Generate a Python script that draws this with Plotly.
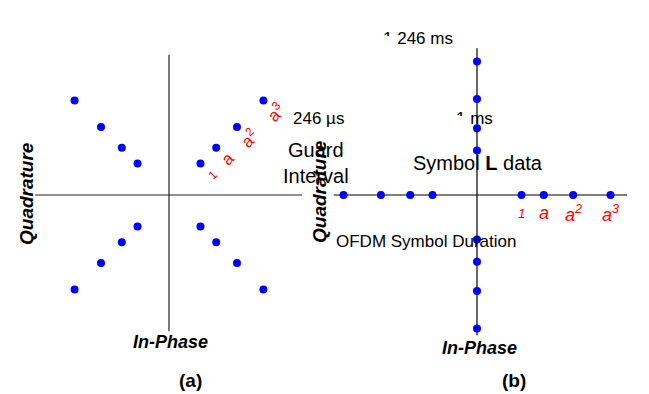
import math
import plotly.graph_objects as go

# ---------------- data ----------------
amplitudes = [1.0, 1.5, 2.16, 3.0]          # ring amplitudes: 1, a, a^2, a^3
amp_labels = ["1", "a", "a<sup>2</sup>", "a<sup>3</sup>"]
star_angles_deg = [45, 135, 225, 315]        # panel (a): star constellation
cross_angles_deg = [0, 90, 180, 270]         # panel (b): cross constellation

# page body has an 8px margin -> figure drawn at (8, 8)
OX, OY = 8, 8
W, H = 641, 386
UNIT = 44.5  # px per amplitude unit

def pts(angles):
    xs, ys = [], []
    for ang in angles:
        for r in amplitudes:
            xs.append(r * math.cos(math.radians(ang)))
            ys.append(r * math.sin(math.radians(ang)))
    return xs, ys

ax_x, ax_y = pts(star_angles_deg)
bx_x, bx_y = pts(cross_angles_deg)

fig = go.Figure()
marker = dict(color="#0000ff", size=8, line=dict(width=0))
fig.add_trace(go.Scatter(x=ax_x, y=ax_y, mode="markers", marker=marker,
                         xaxis="x", yaxis="y", showlegend=False, hoverinfo="skip"))
fig.add_trace(go.Scatter(x=bx_x, y=bx_y, mode="markers", marker=marker,
                         xaxis="x2", yaxis="y2", showlegend=False, hoverinfo="skip"))

# axis geometry (centres in screen px)
ca = (169 - OX, 195 - OY)
cb = (477 - OX, 195 - OY)
SPLIT = 324 - OX

def rng(px0, px1, c):
    return [(px0 - c) / UNIT, (px1 - c) / UNIT]

yr = [(ca[1] - H) / UNIT, (ca[1] - 0) / UNIT]
hid = dict(visible=False, showgrid=False, zeroline=False, fixedrange=True)
fig.update_layout(
    xaxis=dict(domain=[0, SPLIT / W], range=rng(0, SPLIT, ca[0]), **hid),
    yaxis=dict(domain=[0, 1], range=yr, **hid),
    xaxis2=dict(domain=[SPLIT / W, 1], range=rng(SPLIT, W, cb[0]), anchor="y2", **hid),
    yaxis2=dict(domain=[0, 1], range=yr, anchor="x2", **hid),
)

# axis lines
shapes = [
    dict(type="line", xref="x", yref="y", x0=-3.01, x1=2.99, y0=0, y1=0,
         line=dict(color="#222222", width=1.2)),
    dict(type="line", xref="x", yref="y", x0=0, x1=0, y0=3.15, y1=-3.06,
         line=dict(color="#222222", width=1.2)),
    dict(type="line", xref="x2", yref="y2", x0=-3.22, x1=3.37, y0=0, y1=0,
         line=dict(color="#000000", width=1.2)),
    dict(type="line", xref="x2", yref="y2", x0=0, x1=0, y0=3.30, y1=-3.15,
         line=dict(color="#000000", width=1.2)),
]
fig.update_layout(shapes=[dict(s, layer="below") for s in shapes])

FONT = "Liberation Sans, Arial, sans-serif"
ann = []
def px(x, y, text, size, color="#000", angle=0, **kw):
    d = dict(xref="paper", yref="paper", x=(x - OX) / W, y=1 - (y - OY) / H, text=text,
             showarrow=False, textangle=angle,
             font=dict(family=FONT, size=size, color=color),
             xanchor="center", yanchor="middle")
    d.update(kw)
    ann.append(d)

def cover(x0, y0, x1, y1):
    # white patch that hides part of an earlier text (as in the source figure)
    ann.append(dict(xref="paper", yref="paper", x=(x0 - OX) / W, y=1 - (y0 - OY) / H,
                    xanchor="left", yanchor="top", text="&nbsp;", showarrow=False,
                    width=x1 - x0, height=y1 - y0, bgcolor="white", borderpad=0,
                    borderwidth=0, font=dict(size=4, color="white")))

# red amplitude labels, panel (a): along the 45 deg diagonal, rotated
for r, lab in zip(amplitudes, amp_labels):
    c = math.cos(math.radians(45))
    ann.append(dict(xref="x", yref="y", x=r * c, y=r * c, text=lab,
                    showarrow=False, textangle=-45, xshift=12, yshift=-11,
                    font=dict(family=FONT, size=17 if lab != "1" else 12, color="#ff0000")))
# red amplitude labels, panel (b): under the positive in-phase axis
for r, lab in zip(amplitudes, amp_labels):
    ann.append(dict(xref="x2", yref="y2", x=r, y=0, text="<i>" + lab + "</i>",
                    showarrow=False, yshift=-18,
                    font=dict(family=FONT, size=18 if lab != "1" else 13, color="#ff0000")))

# overlapping timing texts
px(418, 38, "1.246 ms", 17)
cover(384, 36, 397, 47)
px(318, 118, "246 µs", 17)
px(474, 118, "1 ms", 17)
cover(455, 116, 466, 126)
px(316, 163, "Guard<br>Interval", 20)
px(478, 163, "Symbol <b>L</b> data", 20)
px(426, 241, "OFDM Symbol Duration", 17)

# axis titles
px(27, 194, "<b><i>Quadrature</i></b>", 19, angle=-90)
px(320, 192, "<b><i>Quadrature</i></b>", 19, angle=-90)
px(170, 342, "<b><i>In-Phase</i></b>", 18)
px(479, 348, "<b><i>In-Phase</i></b>", 18)
px(190, 380, "<b>(a)</b>", 19)
px(514, 380, "<b>(b)</b>", 19)

fig.update_layout(annotations=ann, width=W, height=H,
                  margin=dict(l=0, r=0, t=0, b=0),
                  paper_bgcolor="white", plot_bgcolor="white")
fig.write_html("out.html")
